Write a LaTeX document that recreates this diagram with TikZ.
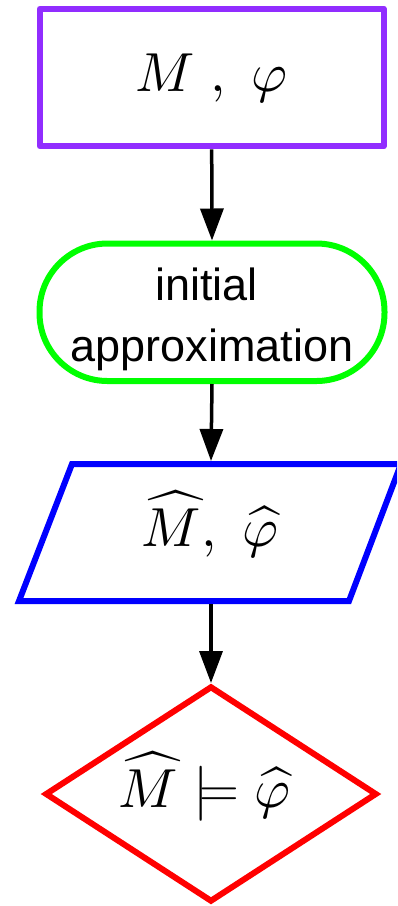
\documentclass[tikz,border=0pt]{standalone}
\usepackage{amsmath}
\usepackage{fontspec}
\DeclareFontShape{OML}{cmm}{m}{it}{<-> cmmi10}{}
\DeclareFontShape{OMS}{cmsy}{m}{n}{<-> cmsy10}{}
\DeclareFontShape{OMX}{cmex}{m}{n}{<-> cmex10}{}
\newfontfamily\arialf{Liberation Sans}
\usetikzlibrary{arrows.meta,shapes.geometric}
\definecolor{boxpurple}{RGB}{145,45,255}
\definecolor{boxgreen}{RGB}{0,255,0}
\definecolor{boxblue}{RGB}{0,0,255}
\definecolor{boxred}{RGB}{255,0,0}
\tikzset{
  frame/.style={line width=6pt},
  mathtxt/.style={anchor=base,inner sep=0pt,font=\fontsize{55}{60}\selectfont},
  sanstxt/.style={inner sep=0pt,align=center,font=\arialf\fontsize{45}{61}\selectfont},
  flow/.style={line width=3.5pt,-{Triangle[width=23pt,length=32pt]}}
}
\begin{document}
\begin{tikzpicture}[x=1pt,y=-1pt]
\useasboundingbox (0,0) rectangle (397,906);
\clip (0,0) rectangle (397,906);
% box 1
\node[frame,draw=boxpurple,rectangle,line join=round,minimum width=344pt,minimum height=137.6pt,inner sep=0pt] (inp) at (211.7,77.5) {};
\node[mathtxt] (inptxt) at (211.5,91.7) {$M\ , \ \varphi$};
% box 2
\node[frame,draw=boxgreen,rectangle,rounded corners=68pt,minimum width=345pt,minimum height=137.5pt,inner sep=0pt] (init) at (212,312.25) {};
\node[sanstxt] (inittxt) at (212,319) {initial\hspace*{11pt}\\approximation};
% box 3 (parallelogram)
\node[rectangle,minimum width=2pt,minimum height=137pt,inner sep=0pt,outer sep=3pt] (para) at (211,532.5) {};
\draw[frame,draw=boxblue] (19,601) -- (349,601) -- (401,464) -- (72,464) -- cycle;
\node[mathtxt] (paratxt) at (210,546.7) {$\widehat{M}, \ \widehat{\varphi}$};
% diamond
\node[frame,draw=boxred,diamond,aspect=1.537,minimum width=332pt,minimum height=216pt,inner sep=0pt] (test) at (211,794) {};
\node[mathtxt] (testtxt) at (204.5,807.3) {$\widehat{M} \models \widehat{\varphi}$};
% connectors
\draw[flow] (inp.south) -- (init.north);
\draw[flow] (init.south) -- (para.north);
\draw[flow] (para.south) -- (test.north);
\end{tikzpicture}
\end{document}
